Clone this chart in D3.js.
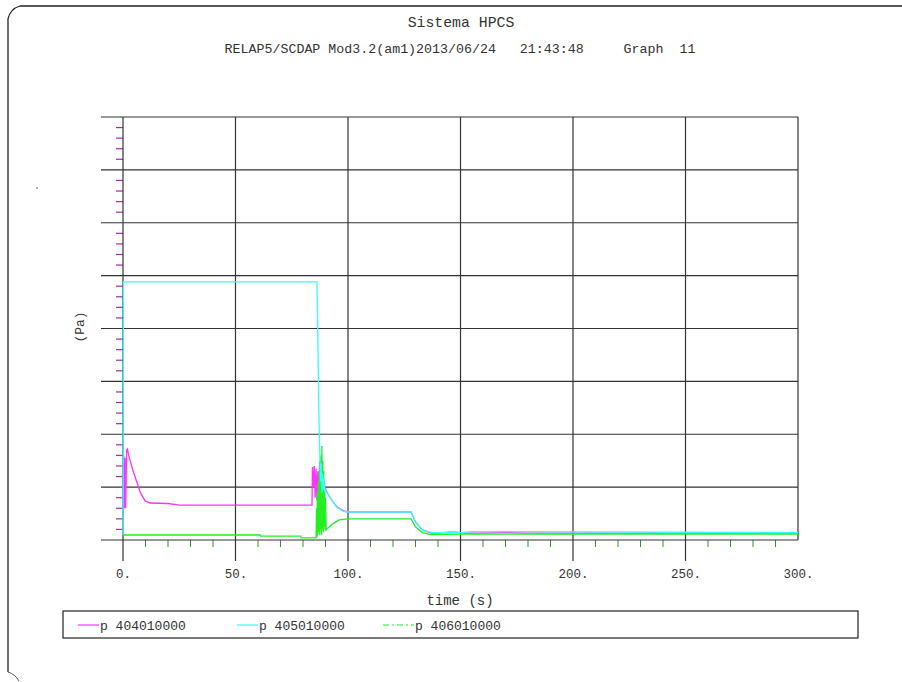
<!DOCTYPE html>
<html>
<head>
<meta charset="utf-8">
<script src="https://cdn.jsdelivr.net/npm/d3@7"></script>
<style>
  body { margin: 0; background: #fff; }
  text { font-family: "Liberation Mono", "DejaVu Sans Mono", monospace; fill: #333; }
</style>
</head>
<body>
<div id="chart"></div>
<script>
// time (s), pressure (arbitrary units per grid division)
var p404_t = [0, 0.3, 0.6, 0.9, 1.2, 1.6, 2.0, 2.5, 4.4, 7.6, 9.8, 12, 20, 25, 60, 84, 84.2, 84.6, 85.0, 85.4, 85.8, 86.2, 86.6, 87.0, 87.4, 87.8, 88.2, 88.6, 89.0, 89.4, 89.8, 90.5, 92, 95, 98, 100, 128, 130, 133, 137, 140, 145, 148, 152, 160, 170, 180, 300];
var p404_v = [0.6, 1.6, 0.6, 1.55, 0.6, 1.7, 1.72, 1.6, 1.32, 0.91, 0.74, 0.70, 0.69, 0.66, 0.66, 0.66, 1.38, 1.0, 1.4, 0.8, 1.35, 0.75, 1.3, 0.9, 1.5, 0.85, 1.2, 0.8, 1.1, 0.9, 1.0, 0.92, 0.8, 0.63, 0.55, 0.53, 0.53, 0.34, 0.19, 0.13, 0.13, 0.15, 0.15, 0.13, 0.13, 0.14, 0.13, 0.13];

var p405_t = [0, 0.2, 86.2, 86.5, 87.0, 87.5, 87.8, 88.1, 88.4, 88.7, 89.0, 89.3, 89.6, 90, 92, 95, 98, 100, 128, 130, 133, 137, 150, 155, 300];
var p405_v = [0.1, 4.88, 4.88, 4.2, 2.5, 1.6, 1.1, 1.45, 0.9, 1.25, 0.95, 1.15, 0.9, 0.95, 0.8, 0.62, 0.54, 0.53, 0.53, 0.34, 0.19, 0.14, 0.14, 0.16, 0.14];

var p406_t = [0, 61, 61.2, 79, 79.2, 85.8, 86.0, 86.2, 86.4, 86.6, 86.8, 87.0, 87.2, 87.4, 87.6, 87.8, 88.0, 88.2, 88.4, 88.6, 88.8, 89.0, 89.2, 89.4, 89.6, 89.8, 90.0, 90.3, 91, 93, 96, 100, 128, 130, 133, 137, 150, 300];
var p406_v = [0.095, 0.095, 0.075, 0.075, 0.04, 0.04, 0.6, 0.05, 0.9, 0.1, 1.1, 0.15, 1.3, 0.1, 1.5, 0.2, 1.6, 0.1, 1.78, 0.2, 1.5, 0.15, 1.3, 0.25, 1.1, 0.2, 0.8, 0.19, 0.22, 0.3, 0.38, 0.40, 0.40, 0.25, 0.14, 0.10, 0.11, 0.11];

var xMajor = [0, 50, 100, 150, 200, 250, 300];
var yMajor = [0, 1, 2, 3, 4, 5, 6, 7, 8];

var seriesNames = ["p 404010000", "p 405010000", "p 406010000"];
var seriesColors = ["#ff33ff", "#33ffff", "#22ee22"];

var width = 902, height = 682;

var x = d3.scaleLinear().domain([0, 300]).range([123, 798]);
var y = d3.scaleLinear().domain([0, 8]).range([540, 117]);

var svg = d3.select("#chart").append("svg")
    .attr("width", width)
    .attr("height", height);

// page frame
svg.append("path")
    .attr("d", "M8,672 L8,19 Q10,9 20,6 L902,6")
    .attr("fill", "none")
    .attr("stroke", "#222")
    .attr("stroke-width", 1.3);
svg.append("path")
    .attr("d", "M8,672 Q15,674 19,681")
    .attr("fill", "none")
    .attr("stroke", "#555")
    .attr("stroke-width", 1);
svg.append("circle").attr("cx", 37).attr("cy", 188).attr("r", 0.8).attr("fill", "#555");

// titles
svg.append("text")
    .attr("x", 461).attr("y", 27)
    .attr("text-anchor", "middle")
    .style("font-size", "14.8px")
    .text("Sistema HPCS");
svg.append("text")
    .attr("x", 460).attr("y", 53)
    .attr("text-anchor", "middle")
    .style("font-size", "13.3px")
    .attr("xml:space", "preserve")
    .style("white-space", "pre")
    .text("RELAP5/SCDAP Mod3.2(am1)2013/06/24   21:43:48     Graph  11");

// minor ticks
var xMinor = d3.range(0, 301, 10).filter(function(d) { return d % 50 !== 0; });
svg.append("g").selectAll("line")
    .data(xMinor)
  .enter().append("line")
    .attr("x1", function(d) { return x(d); })
    .attr("x2", function(d) { return x(d); })
    .attr("y1", y(0))
    .attr("y2", y(0) + 7)
    .attr("stroke", "#2a9a2a")
    .attr("stroke-width", 1);

var yMinor = d3.range(0, 40).map(function(i) { return i * 0.2; }).filter(function(d, i) { return i % 5 !== 0; });
svg.append("g").selectAll("line")
    .data(yMinor)
  .enter().append("line")
    .attr("x1", x(0) - 7)
    .attr("x2", x(0))
    .attr("y1", function(d) { return y(d); })
    .attr("y2", function(d) { return y(d); })
    .attr("stroke", "#a52ca5")
    .attr("stroke-width", 1.2);

// grid
svg.append("g").selectAll("line")
    .data(yMajor)
  .enter().append("line")
    .attr("x1", 101)
    .attr("x2", x(300))
    .attr("y1", function(d) { return y(d); })
    .attr("y2", function(d) { return y(d); })
    .attr("stroke", "#333")
    .attr("stroke-width", 1.2);

svg.append("g").selectAll("line")
    .data(xMajor)
  .enter().append("line")
    .attr("x1", function(d) { return x(d); })
    .attr("x2", function(d) { return x(d); })
    .attr("y1", y(8))
    .attr("y2", function(d) { return d === 300 ? y(0) : 561; })
    .attr("stroke", "#333")
    .attr("stroke-width", 1.2);

// x tick labels via axis
var xAxis = svg.append("g")
    .attr("transform", "translate(0,566)")
    .call(d3.axisBottom(x).tickValues(xMajor).tickSize(0).tickFormat(function(d) { return d + "."; }));
xAxis.select(".domain").remove();
xAxis.selectAll("text")
    .style("font-family", "'Liberation Mono', monospace")
    .style("font-size", "12.5px")
    .attr("fill", "#333");

svg.append("text")
    .attr("x", 460).attr("y", 605)
    .attr("text-anchor", "middle")
    .style("font-size", "14px")
    .text("time (s)");

svg.append("text")
    .attr("transform", "translate(84,327) rotate(-90)")
    .attr("text-anchor", "middle")
    .style("font-size", "13px")
    .text("(Pa)");

// series
var line = d3.line()
    .x(function(d) { return x(d[0]); })
    .y(function(d) { return y(d[1]); });

var data = [
  d3.zip(p404_t, p404_v),
  d3.zip(p406_t, p406_v),
  d3.zip(p405_t, p405_v)
];
var colorOrder = [seriesColors[0], seriesColors[2], seriesColors[1]];

svg.append("g").selectAll("path")
    .data(data)
  .enter().append("path")
    .attr("d", line)
    .attr("fill", "none")
    .attr("stroke", function(d, i) { return colorOrder[i]; })
    .attr("stroke-width", 1.3);

// legend
svg.append("rect")
    .attr("x", 63).attr("y", 611)
    .attr("width", 795).attr("height", 27)
    .attr("fill", "none")
    .attr("stroke", "#222")
    .attr("stroke-width", 1.2);

var legendX = [78, 237, 383];
var legendLen = [21, 21, 31];
var legendDash = [null, null, "6,3,2,3"];
var leg = svg.append("g").selectAll("g")
    .data(seriesNames)
  .enter().append("g");
leg.append("line")
    .attr("x1", function(d, i) { return legendX[i]; })
    .attr("x2", function(d, i) { return legendX[i] + legendLen[i]; })
    .attr("y1", 625).attr("y2", 625)
    .attr("stroke", function(d, i) { return seriesColors[i]; })
    .attr("stroke-dasharray", function(d, i) { return legendDash[i]; })
    .attr("stroke-width", 1.2);
leg.append("text")
    .attr("x", function(d, i) { return legendX[i] + legendLen[i] + 1; })
    .attr("y", 630)
    .style("font-size", "13px")
    .text(function(d) { return d; });
</script>
</body>
</html>
